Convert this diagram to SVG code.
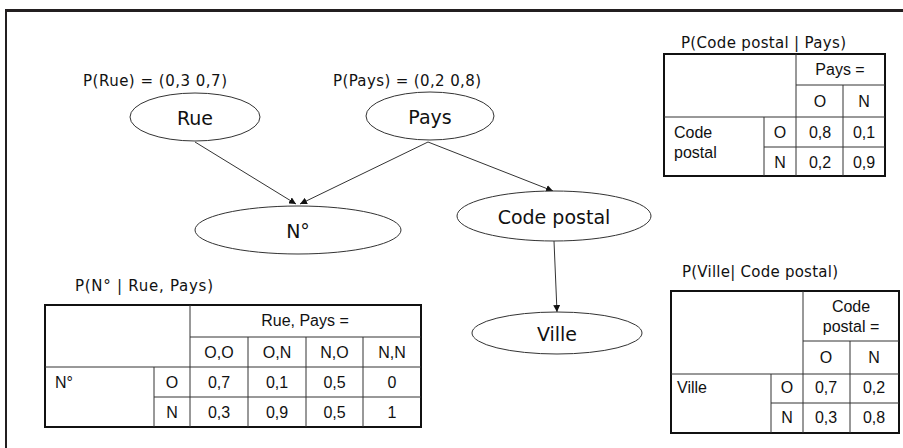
<svg xmlns="http://www.w3.org/2000/svg" width="903" height="448" viewBox="0 0 903 448">
<defs>
<style>
.node{fill:#fff;stroke:#333;stroke-width:1}
.nl{font-family:"DejaVu Sans",Verdana,sans-serif;font-size:19px;fill:#111;text-anchor:middle}
.pl{font-family:"DejaVu Sans",Verdana,sans-serif;font-size:15px;fill:#111}
.edge{stroke:#333;stroke-width:1;fill:none;marker-end:url(#ah)}
.tb{fill:#fff;stroke:#111;stroke-width:2}
.tl{stroke:#333;stroke-width:1;fill:none}
.tt{font-family:"Liberation Sans",Arial,sans-serif;font-size:16px;fill:#111}
.c{text-anchor:middle}
</style>
<marker id="ah" viewBox="0 0 10 10" refX="10" refY="5" markerWidth="7" markerHeight="7" markerUnits="userSpaceOnUse" orient="auto">
<path d="M0,0 L10,5 L0,10 z" fill="#111"/>
</marker>
</defs>
<rect width="903" height="448" fill="#fff"/>
<g id="frame">
<line x1="5" y1="10.5" x2="903" y2="10.5" stroke="#231f20" stroke-width="3"/>
<line x1="6" y1="9" x2="6" y2="448" stroke="#231f20" stroke-width="2"/>
</g>
<g id="connectors">
<line class="edge" x1="195" y1="142" x2="296" y2="204"/>
<line class="edge" x1="428" y1="142" x2="300" y2="204"/>
<line class="edge" x1="428" y1="142" x2="553" y2="191"/>
<line class="edge" x1="554" y1="241" x2="557" y2="312"/>
</g>
<g id="node-rue">
<text class="pl" x="83" y="86" textLength="144">P(Rue) = (0,3 0,7)</text>
<ellipse class="node" cx="195" cy="117" rx="65" ry="24"/>
<text class="nl" x="195" y="125">Rue</text>
</g>
<g id="node-pays">
<text class="pl" x="333" y="86" textLength="148">P(Pays) = (0,2 0,8)</text>
<ellipse class="node" cx="430" cy="116" rx="64" ry="24"/>
<text class="nl" x="430" y="124">Pays</text>
</g>
<g id="node-no">
<ellipse class="node" cx="298" cy="230" rx="103" ry="24"/>
<text class="nl" x="298" y="238">N°</text>
</g>
<g id="node-code-postal">
<ellipse class="node" cx="554" cy="216" rx="97" ry="25"/>
<text class="nl" x="554" y="224">Code postal</text>
</g>
<g id="node-ville">
<ellipse class="node" cx="557" cy="333" rx="85" ry="21"/>
<text class="nl" x="557" y="341">Ville</text>
</g>
<g id="table-code-postal">
<text class="pl" x="681" y="48" textLength="165">P(Code postal | Pays)</text>
<rect class="tb" x="664" y="54" width="221" height="122"/>
<line class="tl" x1="796" y1="54" x2="796" y2="176"/>
<line class="tl" x1="764" y1="117" x2="764" y2="176"/>
<line class="tl" x1="843" y1="85" x2="843" y2="176"/>
<line class="tl" x1="796" y1="85" x2="885" y2="85"/>
<line class="tl" x1="664" y1="117" x2="885" y2="117"/>
<line class="tl" x1="764" y1="147" x2="885" y2="147"/>
<text class="tt c" x="840" y="75">Pays =</text>
<text class="tt c" x="820" y="107">O</text>
<text class="tt c" x="864" y="107">N</text>
<text class="tt" x="674" y="138">Code</text>
<text class="tt" x="674" y="158">postal</text>
<text class="tt c" x="780" y="138">O</text>
<text class="tt c" x="780" y="168">N</text>
<text class="tt c" x="820" y="138">0,8</text>
<text class="tt c" x="864" y="138">0,1</text>
<text class="tt c" x="820" y="168">0,2</text>
<text class="tt c" x="864" y="168">0,9</text>
</g>
<g id="table-ville">
<text class="pl" x="682" y="277" textLength="156">P(Ville| Code postal)</text>
<rect class="tb" x="671" y="291" width="228" height="142"/>
<line class="tl" x1="803" y1="291" x2="803" y2="433"/>
<line class="tl" x1="771" y1="374" x2="771" y2="433"/>
<line class="tl" x1="850" y1="341" x2="850" y2="433"/>
<line class="tl" x1="803" y1="341" x2="899" y2="341"/>
<line class="tl" x1="671" y1="374" x2="899" y2="374"/>
<line class="tl" x1="771" y1="403" x2="899" y2="403"/>
<text class="tt c" x="851" y="312">Code</text>
<text class="tt c" x="851" y="332">postal =</text>
<text class="tt c" x="826" y="363">O</text>
<text class="tt c" x="874" y="363">N</text>
<text class="tt" x="677" y="393">Ville</text>
<text class="tt c" x="787" y="393">O</text>
<text class="tt c" x="787" y="423">N</text>
<text class="tt c" x="826" y="393">0,7</text>
<text class="tt c" x="874" y="393">0,2</text>
<text class="tt c" x="826" y="423">0,3</text>
<text class="tt c" x="874" y="423">0,8</text>
</g>
<g id="table-no">
<text class="pl" x="75" y="291" textLength="138">P(N° | Rue, Pays)</text>
<rect class="tb" x="45" y="305" width="376" height="122"/>
<line class="tl" x1="190" y1="305" x2="190" y2="427"/>
<line class="tl" x1="154" y1="367" x2="154" y2="427"/>
<line class="tl" x1="248" y1="337" x2="248" y2="427"/>
<line class="tl" x1="306" y1="337" x2="306" y2="427"/>
<line class="tl" x1="363" y1="337" x2="363" y2="427"/>
<line class="tl" x1="190" y1="337" x2="421" y2="337"/>
<line class="tl" x1="45" y1="367" x2="421" y2="367"/>
<line class="tl" x1="154" y1="397" x2="421" y2="397"/>
<text class="tt c" x="305" y="326">Rue, Pays =</text>
<text class="tt c" x="219" y="358">O,O</text>
<text class="tt c" x="277" y="358">O,N</text>
<text class="tt c" x="334.5" y="358">N,O</text>
<text class="tt c" x="392" y="358">N,N</text>
<text class="tt" x="55" y="388">N°</text>
<text class="tt c" x="172" y="388">O</text>
<text class="tt c" x="172" y="418">N</text>
<text class="tt c" x="219" y="388">0,7</text>
<text class="tt c" x="277" y="388">0,1</text>
<text class="tt c" x="334.5" y="388">0,5</text>
<text class="tt c" x="392" y="388">0</text>
<text class="tt c" x="219" y="418">0,3</text>
<text class="tt c" x="277" y="418">0,9</text>
<text class="tt c" x="334.5" y="418">0,5</text>
<text class="tt c" x="392" y="418">1</text>
</g>
</svg>
